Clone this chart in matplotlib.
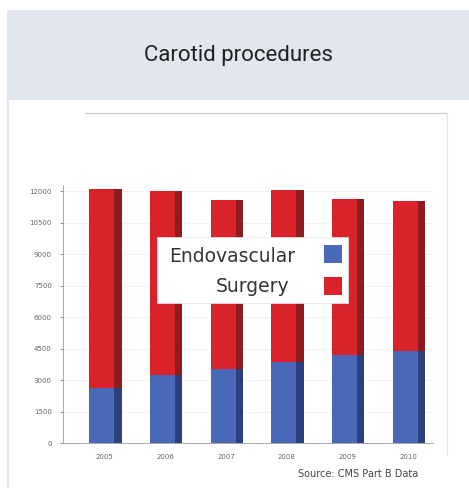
import matplotlib
matplotlib.use("Agg")
import matplotlib.pyplot as plt
from matplotlib.patches import Rectangle
import numpy as np

years = ["2005", "2006", "2007", "2008", "2009", "2010"]
endovascular = [2600, 3250, 3550, 3850, 4200, 4400]
surgery = [9500, 8750, 8050, 8200, 7450, 7150]
y_ticks = [0, 1500, 3000, 4500, 6000, 7500, 9000, 10500, 12000]

red = "#d9222a"
red_side = "#8e1c1f"
blue = "#4a68b8"
blue_side = "#2c3f7e"

W, H = 469, 488
fig = plt.figure(figsize=(W / 100, H / 100), dpi=100)
fig.patch.set_facecolor("white")

def fx(px):
    return px / W

def fy(py):
    return 1 - py / H

# header panel
fig.patches.append(Rectangle((fx(7), fy(100)), 1 - fx(7), fy(10) - fy(100),
                             transform=fig.transFigure, facecolor="#e1e6ef",
                             edgecolor="none", zorder=0))
fig.add_artist(plt.Line2D([fx(7.5), fx(7.5)], [0, fy(100)], transform=fig.transFigure,
                          color="#dde2ea", lw=1.2))
fig.text(fx(238), fy(56), "Carotid procedures", ha="center", va="center",
         fontsize=16, color="#222222", family="Roboto")

# faint frame of the pasted chart
fig.add_artist(plt.Line2D([fx(85), fx(447)], [fy(113), fy(113)], transform=fig.transFigure,
                          color="#c8c8c8", lw=0.8))
fig.add_artist(plt.Line2D([fx(447), fx(447)], [fy(113), fy(455)], transform=fig.transFigure,
                          color="#e6e6e6", lw=0.8))

ax = fig.add_axes([fx(63), fy(443), fx(433) - fx(63), fy(185) - fy(443)])
x = np.arange(len(years))
front_w = 0.41
side_w = 0.12
side_x = x + front_w / 2 + side_w / 2

ax.bar(x, endovascular, width=front_w, color=blue, zorder=3)
ax.bar(x, surgery, width=front_w, bottom=endovascular, color=red, zorder=3)
ax.bar(side_x, endovascular, width=side_w, color=blue_side, zorder=3)
ax.bar(side_x, surgery, width=side_w, bottom=endovascular, color=red_side, zorder=3)

ax.set_xlim(-0.64, 5.46)
ax.set_ylim(0, 12300)
ax.set_yticks(y_ticks)
ax.set_yticklabels([str(v) for v in y_ticks])
ax.set_xticks(x + 0.05)
ax.set_xticklabels(years)
ax.tick_params(axis="both", labelsize=5, colors="#666666", length=2, width=0.5)
ax.tick_params(axis="x", length=0, pad=8)
ax.tick_params(axis="y", pad=6)
ax.grid(axis="y", color="#eeeeee", lw=0.5, zorder=0)
for side in ["top", "right"]:
    ax.spines[side].set_visible(False)
ax.spines["left"].set_color("#999999")
ax.spines["bottom"].set_color("#999999")
ax.spines["left"].set_linewidth(0.6)
ax.spines["bottom"].set_linewidth(0.6)

# legend box
fig.patches.append(Rectangle((fx(157), fy(303)), fx(348) - fx(157), fy(237) - fy(303),
                             transform=fig.transFigure, facecolor="white",
                             edgecolor="#e4e4e4", lw=0.5, zorder=5))
fig.text(fx(295), fy(256), "Endovascular", ha="right", va="center", fontsize=13.5,
         color="#333333", zorder=6)
fig.text(fx(289), fy(287), "Surgery", ha="right", va="center", fontsize=13.5,
         color="#333333", zorder=6)
fig.patches.append(Rectangle((fx(324), fy(263)), fx(18), fx(18) * W / H,
                             transform=fig.transFigure, facecolor=blue, edgecolor="none", zorder=6))
fig.patches.append(Rectangle((fx(324), fy(295)), fx(18), fx(18) * W / H,
                             transform=fig.transFigure, facecolor=red, edgecolor="none", zorder=6))

fig.text(fx(418), fy(474), "Source: CMS Part B Data", ha="right", va="center",
         fontsize=7, color="#444444")

fig.savefig("out.png", dpi=100)
